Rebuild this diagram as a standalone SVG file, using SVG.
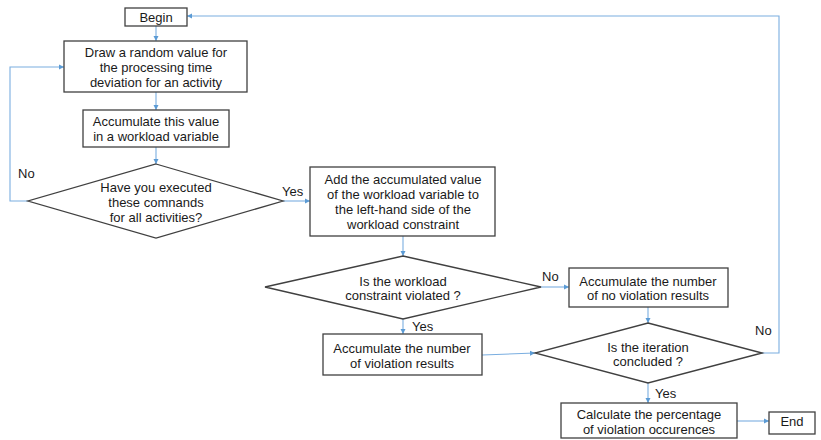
<svg xmlns="http://www.w3.org/2000/svg" width="821" height="440" viewBox="0 0 821 440">
<style>
.n{fill:#fff;stroke:#404040;stroke-width:1.3}
.t{font-family:"Liberation Sans",Arial,sans-serif;font-size:13px;fill:#1a1a1a;text-anchor:middle}
.l{font-family:"Liberation Sans",Arial,sans-serif;font-size:13px;fill:#1a1a1a}
.c{fill:none;stroke:#7aaee0;stroke-width:1.1}
</style>
<defs>
<marker id="a" markerWidth="6" markerHeight="6" refX="5" refY="3" orient="auto" markerUnits="userSpaceOnUse">
<path d="M0,0.5 L5,3 L0,5.5 Z" fill="#5b9bd5"/>
</marker>
</defs>
<rect width="821" height="440" fill="#fff"/>
<g id="connectors">
<path class="c" d="M156,26 V41" marker-end="url(#a)"/>
<path class="c" d="M156,92 V110" marker-end="url(#a)"/>
<path class="c" d="M156,147 V164" marker-end="url(#a)"/>
<path class="c" d="M28,201 H10 V67 H64" marker-end="url(#a)"/>
<path class="c" d="M283,201 H310" marker-end="url(#a)"/>
<path class="c" d="M403,236 V256" marker-end="url(#a)"/>
<path class="c" d="M541,287 H569" marker-end="url(#a)"/>
<path class="c" d="M403,319 V334" marker-end="url(#a)"/>
<path class="c" d="M482,355 L535,353" marker-end="url(#a)"/>
<path class="c" d="M648,307 V323" marker-end="url(#a)"/>
<path class="c" d="M762,353 H779 V16 H187" marker-end="url(#a)"/>
<path class="c" d="M648,383 V403" marker-end="url(#a)"/>
<path class="c" d="M737,421 H769" marker-end="url(#a)"/>
<text class="l" x="18" y="178">No</text>
<text class="l" x="282" y="196">Yes</text>
<text class="l" x="542" y="281">No</text>
<text class="l" x="412" y="331">Yes</text>
<text class="l" x="755" y="335">No</text>
<text class="l" x="655" y="398">Yes</text>
</g>
<g id="begin">
<rect class="n" x="125" y="8" width="62" height="18"/>
<text class="t" x="156" y="21.5">Begin</text>
</g>
<g id="draw">
<rect class="n" x="64" y="41" width="183" height="51"/>
<text class="t" x="156" y="56.5">Draw a random value for</text>
<text class="t" x="156" y="71.5">the processing time</text>
<text class="t" x="156" y="86.5">deviation for an activity</text>
</g>
<g id="accumulate">
<rect class="n" x="83" y="110" width="146" height="37"/>
<text class="t" x="156" y="125.5">Accumulate this value</text>
<text class="t" x="156" y="140.5">in a workload variable</text>
</g>
<g id="decision1">
<polygon class="n" points="156,164 283,201 156,238 28,201"/>
<text class="t" x="156" y="191.5">Have you executed</text>
<text class="t" x="156" y="206.5">these comnands</text>
<text class="t" x="156" y="221.5">for all activities?</text>
</g>
<g id="add">
<rect class="n" x="310" y="167" width="185" height="69"/>
<text class="t" x="403" y="183.5">Add the accumulated value</text>
<text class="t" x="403" y="198.5">of the workload variable to</text>
<text class="t" x="403" y="213.5">the left-hand side of the</text>
<text class="t" x="403" y="228.5">workload constraint</text>
</g>
<g id="decision2">
<polygon class="n" points="403,256 541,287 403,319 265,287"/>
<text class="t" x="403" y="285.5">Is the workload</text>
<text class="t" x="403" y="299.5">constraint violated ?</text>
</g>
<g id="violation">
<rect class="n" x="323" y="334" width="159" height="41"/>
<text class="t" x="402" y="352.5">Accumulate the number</text>
<text class="t" x="402" y="367.5">of violation results</text>
</g>
<g id="noviolation">
<rect class="n" x="569" y="268" width="159" height="39"/>
<text class="t" x="648" y="285.5">Accumulate the number</text>
<text class="t" x="648" y="299.5">of no violation results</text>
</g>
<g id="decision3">
<polygon class="n" points="648,323 762,353 648,383 535,353"/>
<text class="t" x="648" y="351.5">Is the iteration</text>
<text class="t" x="648" y="365.5">concluded ?</text>
</g>
<g id="calculate">
<rect class="n" x="561" y="403" width="176" height="35"/>
<text class="t" x="649" y="418.5">Calculate the percentage</text>
<text class="t" x="649" y="433.5">of violation occurences</text>
</g>
<g id="end">
<rect class="n" x="769" y="412" width="46" height="22"/>
<text class="t" x="792" y="425.5">End</text>
</g>
</svg>
